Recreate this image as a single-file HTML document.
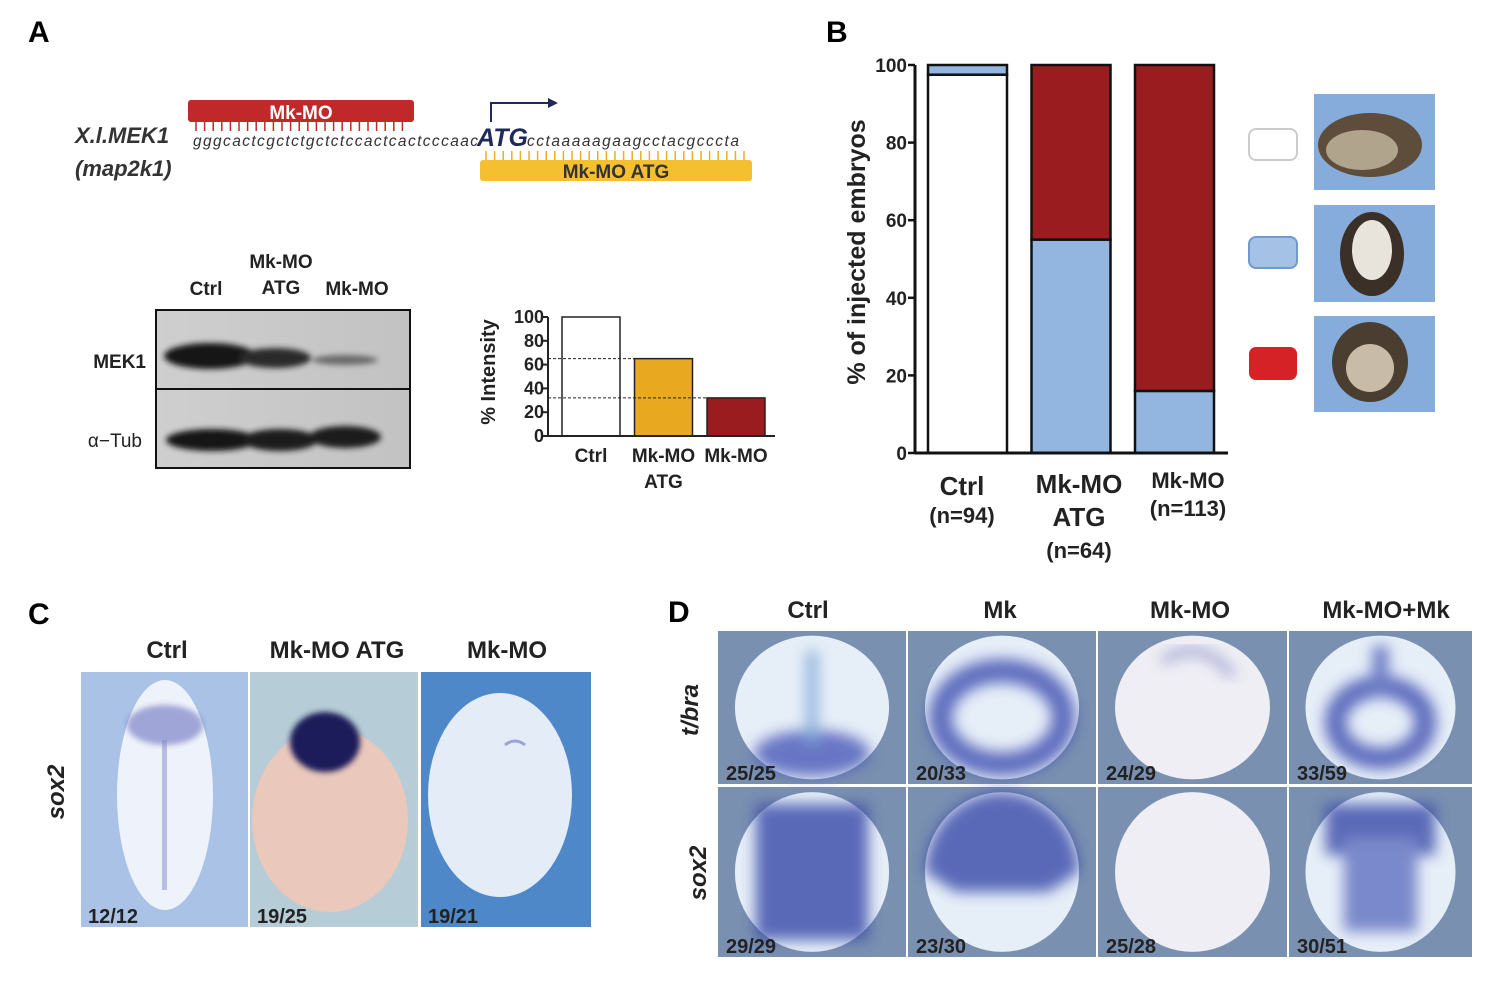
<!DOCTYPE html>
<html><head><meta charset="utf-8"><style>
html,body{margin:0;padding:0;background:#fff}
svg{display:block;font-family:"Liberation Sans",sans-serif}
</style></head><body>
<svg id="fig" width="1500" height="990" viewBox="0 0 1500 990">
<defs>
<linearGradient id="blot" x1="0" x2="1"><stop offset="0" stop-color="#cfcfcf"/><stop offset="1" stop-color="#c2c2c2"/></linearGradient>
<filter id="bl" x="-20%" y="-50%" width="140%" height="200%"><feGaussianBlur stdDeviation="3"/></filter>
<filter id="bl6" x="-30%" y="-30%" width="160%" height="160%"><feGaussianBlur stdDeviation="7"/></filter>
</defs>
<g font-weight="bold">
<text x="28" y="42" font-size="30">A</text>
<text x="826" y="42" font-size="30">B</text>
<text x="28" y="624" font-size="30">C</text>
<text x="668" y="622" font-size="30">D</text>
</g>

<g>
<rect x="188" y="100" width="226" height="22" rx="3" fill="#c0282a"/>
<text x="301" y="119" font-size="19" fill="#fff" text-anchor="middle" font-weight="bold">Mk-MO</text>
<g id="redticks" stroke="#c0282a" stroke-width="1.5"></g>
<text x="75" y="143" font-size="22" font-style="italic" font-weight="bold" fill="#333">X.l.MEK1</text>
<text x="75" y="176" font-size="22" font-style="italic" font-weight="bold" fill="#333">(map2k1)</text>
<text x="193" y="146" font-size="15.5" font-style="italic" fill="#333" textLength="285">gggcactcgctctgctctccactcactcccaac</text>
<text x="477" y="146" font-size="25" font-style="italic" font-weight="bold" fill="#1f2a5a">ATG</text>
<text x="527" y="146" font-size="15.5" font-style="italic" fill="#333" textLength="212">cctaaaaagaagcctacgcccta</text>
<path d="M491 122 V103 H550" stroke="#1f2a5a" stroke-width="2" fill="none"/>
<path d="M548 98 L558 103 L548 108 Z" fill="#1f2a5a"/>
<g id="yelticks" stroke="#e8b020" stroke-width="1.5"></g>
<rect x="480" y="160" width="272" height="21" rx="3" fill="#f5c030"/>
<text x="616" y="178" font-size="19" fill="#333" text-anchor="middle" font-weight="bold">Mk-MO ATG</text>
</g>

<g font-weight="bold" fill="#222">
<text x="206" y="295" font-size="19" text-anchor="middle">Ctrl</text>
<text x="281" y="268" font-size="19" text-anchor="middle">Mk-MO</text>
<text x="281" y="294" font-size="19" text-anchor="middle">ATG</text>
<text x="357" y="295" font-size="19" text-anchor="middle">Mk-MO</text>
<text x="146" y="368" font-size="19" text-anchor="end">MEK1</text>
<text x="142" y="447" font-size="19" text-anchor="end" font-weight="normal">α−Tub</text>
<rect x="156" y="310" width="254" height="158" fill="url(#blot)" stroke="#111" stroke-width="2"/>
<g filter="url(#bl)">
<ellipse cx="210" cy="356" rx="46" ry="13" fill="#151515"/>
<ellipse cx="275" cy="358" rx="36" ry="10" fill="#2a2a2a"/>
<ellipse cx="345" cy="360" rx="33" ry="5" fill="#6a6a6a"/>
<ellipse cx="212" cy="440" rx="46" ry="11" fill="#181818"/>
<ellipse cx="280" cy="440" rx="38" ry="11" fill="#1c1c1c"/>
<ellipse cx="345" cy="437" rx="36" ry="11" fill="#1c1c1c"/>
</g>
<line x1="156" y1="389" x2="410" y2="389" stroke="#111" stroke-width="2"/>
</g>

<g id="intChart"></g>
<g id="bChart"></g>

<g>
<rect x="1249" y="129" width="48" height="31" rx="7" fill="#fff" stroke="#ccc" stroke-width="2"/>
<rect x="1249" y="237" width="48" height="31" rx="7" fill="#a4c2e6" stroke="#6f9ad0" stroke-width="2"/>
<rect x="1249" y="347" width="48" height="33" rx="7" fill="#d42226"/>
<rect x="1314" y="94" width="121" height="96" fill="#86acdc"/>
<ellipse cx="1370" cy="145" rx="52" ry="32" fill="#5d4d3a"/><ellipse cx="1362" cy="150" rx="36" ry="20" fill="#b0a48c"/>
<rect x="1314" y="205" width="121" height="97" fill="#86acdc"/>
<ellipse cx="1372" cy="254" rx="32" ry="42" fill="#3a3028"/><ellipse cx="1372" cy="250" rx="20" ry="30" fill="#e8e4dc"/>
<rect x="1314" y="316" width="121" height="96" fill="#86acdc"/>
<ellipse cx="1370" cy="362" rx="38" ry="40" fill="#4a3e30"/><ellipse cx="1370" cy="368" rx="24" ry="24" fill="#c8bca8"/>
</g>

<g font-weight="bold" fill="#222">
<text x="167" y="658" font-size="24" text-anchor="middle">Ctrl</text>
<text x="337" y="658" font-size="24" text-anchor="middle">Mk-MO ATG</text>
<text x="507" y="658" font-size="24" text-anchor="middle">Mk-MO</text>
<text transform="translate(64,792) rotate(-90)" font-size="24" text-anchor="middle" font-style="italic">sox2</text>
<rect x="81" y="672" width="167" height="255" fill="#a9c2e6"/>
<ellipse cx="165" cy="795" rx="48" ry="115" fill="#eef2fa"/>
<ellipse cx="165" cy="725" rx="38" ry="20" fill="#6c72c0" opacity="0.6" filter="url(#bl)"/>
<rect x="162" y="740" width="5" height="150" fill="#8088cc" opacity="0.5"/>
<rect x="250" y="672" width="168" height="255" fill="#b6ccd6"/>
<ellipse cx="330" cy="820" rx="78" ry="92" fill="#eac8bc"/>
<ellipse cx="325" cy="742" rx="35" ry="30" fill="#1e1c5a" filter="url(#bl)"/>
<rect x="421" y="672" width="170" height="255" fill="#4f88c8"/>
<ellipse cx="500" cy="795" rx="72" ry="102" fill="#e4ecf8"/>
<path d="M505 745 q10 -8 20 0" stroke="#9aa4d4" stroke-width="3" fill="none"/>
<g font-size="20" fill="#222"><text x="88" y="923">12/12</text><text x="257" y="923">19/25</text><text x="428" y="923">19/21</text></g>
</g>

<g font-weight="bold" fill="#222">
<text x="808" y="618" font-size="24" text-anchor="middle">Ctrl</text>
<text x="1000" y="618" font-size="24" text-anchor="middle">Mk</text>
<text x="1190" y="618" font-size="24" text-anchor="middle">Mk-MO</text>
<text x="1386" y="618" font-size="24" text-anchor="middle">Mk-MO+Mk</text>
<text transform="translate(698,710) rotate(-90)" font-size="24" text-anchor="middle" font-style="italic">t/bra</text>
<text transform="translate(706,873) rotate(-90)" font-size="24" text-anchor="middle" font-style="italic">sox2</text>
<g id="dgrid"></g>
</g>

<script>
var NS="http://www.w3.org/2000/svg";
function mk(tag,attrs,parent,txt){var e=document.createElementNS(NS,tag);for(var k in attrs)e.setAttribute(k,attrs[k]);if(txt!==undefined)e.textContent=txt;parent.appendChild(e);return e;}
var rt=document.getElementById('redticks');for(var x=196;x<=406;x+=8.6)mk('line',{x1:x,y1:122,x2:x,y2:131},rt);
var yt=document.getElementById('yelticks');for(var x=486;x<=746;x+=8.6)mk('line',{x1:x,y1:151,x2:x,y2:160},yt);

var intCategories=["Ctrl","Mk-MO ATG","Mk-MO"];
var intValues=[100,65,32];
var intColors=["#ffffff","#e8a820","#9b1c1f"];
var intTicks=[0,20,40,60,80,100];
(function(){
 var g=document.getElementById('intChart');
 var x0=548,yb=436,yt=317,bw=58,step=72.5,first=562;
 function y(v){return yb-(yb-yt)*v/100;}
 intValues.forEach(function(v,i){
  var bx=first+i*step;
  var r=mk('rect',{x:bx,y:y(v),width:bw,height:yb-y(v),fill:intColors[i],stroke:"#222","stroke-width":1.5},g);
  
  
  if(i>0){mk('line',{x1:x0,x2:bx,y1:y(v),y2:y(v),stroke:"#222","stroke-dasharray":"3,2","stroke-width":1},g);}
  var parts=intCategories[i]==="Mk-MO ATG"?["Mk-MO","ATG"]:[intCategories[i]];
  parts.forEach(function(p,j){mk('text',{x:bx+bw/2,y:462+j*26,"font-size":19,"font-weight":"bold","text-anchor":"middle",fill:"#222"},g,p);});
 });
 mk('line',{x1:x0,x2:x0,y1:yt,y2:yb,stroke:"#222","stroke-width":2},g);
 mk('line',{x1:x0,x2:775,y1:yb,y2:yb,stroke:"#222","stroke-width":2},g);
 intTicks.forEach(function(t){
  mk('line',{x1:x0-5,x2:x0,y1:y(t),y2:y(t),stroke:"#222","stroke-width":2},g);
  mk('text',{x:x0-4,y:y(t)+6,"font-size":18,"font-weight":"bold","text-anchor":"end",fill:"#222"},g,String(t));
 });
 mk('text',{transform:"translate(495,372) rotate(-90)","font-size":20,"font-weight":"bold","text-anchor":"middle",fill:"#222"},g,"% Intensity");
})();

var bCategories=["Ctrl","Mk-MO ATG","Mk-MO"];
var bCounts=["(n=94)","(n=64)","(n=113)"];
var bNormal=[97.5,0,0];
var bMild=[2.5,55,16];
var bSevere=[0,45,84];
var bTicks=[0,20,40,60,80,100];
(function(){
 var g=document.getElementById('bChart');
 var x0=915,yb=453,yt=65,bw=79,step=103.5,first=928;
 function y(v){return yb-(yb-yt)*v/100;}
 var cols=["#ffffff","#92b6e0","#9b1c1f"];
 bCategories.forEach(function(c,i){
  var bx=first+i*step,acc=0;
  [bNormal[i],bMild[i],bSevere[i]].forEach(function(v,k){
   if(v<=0)return;
   var r=mk('rect',{x:bx,y:y(acc+v),width:bw,height:y(acc)-y(acc+v),fill:cols[k],stroke:"#111","stroke-width":2.5},g);
   
   
   acc+=v;
  });
 });
 var lab=[[[bCategories[0],962,495,26],[bCounts[0],962,523,22]],[["Mk-MO",1079,493,26],["ATG",1079,526,26],[bCounts[1],1079,558,22]],[[bCategories[2],1188,488,22],[bCounts[2],1188,516,22]]];
 lab.forEach(function(L){L.forEach(function(t){mk('text',{x:t[1],y:t[2],"font-size":t[3],"font-weight":"bold","text-anchor":"middle",fill:"#222"},g,t[0]);});});
 mk('line',{x1:x0,x2:x0,y1:yt,y2:yb,stroke:"#111","stroke-width":3},g);
 mk('line',{x1:x0,x2:1228,y1:yb,y2:yb,stroke:"#111","stroke-width":3},g);
 bTicks.forEach(function(t){
  mk('line',{x1:x0-7,x2:x0,y1:y(t),y2:y(t),stroke:"#111","stroke-width":2.5},g);
  mk('text',{x:x0-8,y:y(t)+7,"font-size":19,"font-weight":"bold","text-anchor":"end",fill:"#222"},g,String(t));
 });
 mk('text',{transform:"translate(865,252) rotate(-90)","font-size":25,"font-weight":"bold","text-anchor":"middle",fill:"#222"},g,"% of injected embryos");
})();

var dCounts=[["25/25","20/33","24/29","33/59"],["29/29","23/30","25/28","30/51"]];
(function(){
 var g=document.getElementById('dgrid');
 var xs=[718,908,1098,1289],ws=[188,188,189,183],ys=[631,787],hs=[153,170];
 for(var r=0;r<2;r++)for(var c=0;c<4;c++){
  var x=xs[c],y=ys[r],w=ws[c],h=hs[r],cx=x+w/2,cy=y+h/2,rx=w*0.41,ry=h*0.47;
  var cell=mk('g',{},g);
  
  
  mk('rect',{x:x,y:y,width:w,height:h,fill:"#7a90b0"},cell);
  mk('ellipse',{cx:cx,cy:cy,rx:rx,ry:ry,fill:(c===2?"#eeeef4":"#e6eef8")},cell);
  var s=mk('g',{filter:"url(#bl6)",opacity:0.8},cell);
  if(r===0){
   if(c===0){mk('ellipse',{cx:cx,cy:y+h*0.8,rx:rx*0.75,ry:h*0.15,fill:"#4858b8"},s);mk('rect',{x:cx-5,y:y+20,width:10,height:h*0.6,fill:"#6a9ad0"},s);}
   if(c===1){mk('ellipse',{cx:cx,cy:cy+10,rx:rx*0.8,ry:ry*0.65,fill:"none",stroke:"#4050b0","stroke-width":24},s);}
   if(c===2){mk('path',{d:"M"+(cx-30)+" "+(y+30)+" q40 -25 70 15",stroke:"#8a90c8","stroke-width":8,fill:"none"},s);}
   if(c===3){mk('ellipse',{cx:cx,cy:cy+15,rx:rx*0.6,ry:ry*0.5,fill:"none",stroke:"#4050b0","stroke-width":22},s);mk('rect',{x:cx-8,y:y+15,width:16,height:50,fill:"#5060b8"},s);}
  } else {
   if(c===0){mk('rect',{x:x+w*0.2,y:y+h*0.1,width:w*0.6,height:h*0.8,fill:"#3848a8"},s);}
   if(c===1){mk('path',{d:"M"+(cx-rx)+" "+cy+" A"+rx+" "+ry+" 0 0 1 "+(cx+rx)+" "+cy+" L"+(cx+rx*0.6)+" "+(cy+20)+" L"+(cx-rx*0.6)+" "+(cy+20)+" Z",fill:"#3848a8"},s);}
   if(c===3){mk('rect',{x:x+w*0.2,y:y+h*0.1,width:w*0.6,height:h*0.3,fill:"#3848a8"},s);mk('rect',{x:x+w*0.3,y:y+h*0.3,width:w*0.4,height:h*0.55,fill:"#6070c0"},s);}
  }
  mk('text',{x:x+8,y:y+h-4,"font-size":20,"font-weight":"bold",fill:"#222"},cell,dCounts[r][c]);
 }
})();
</script>
</svg>
</body></html>
